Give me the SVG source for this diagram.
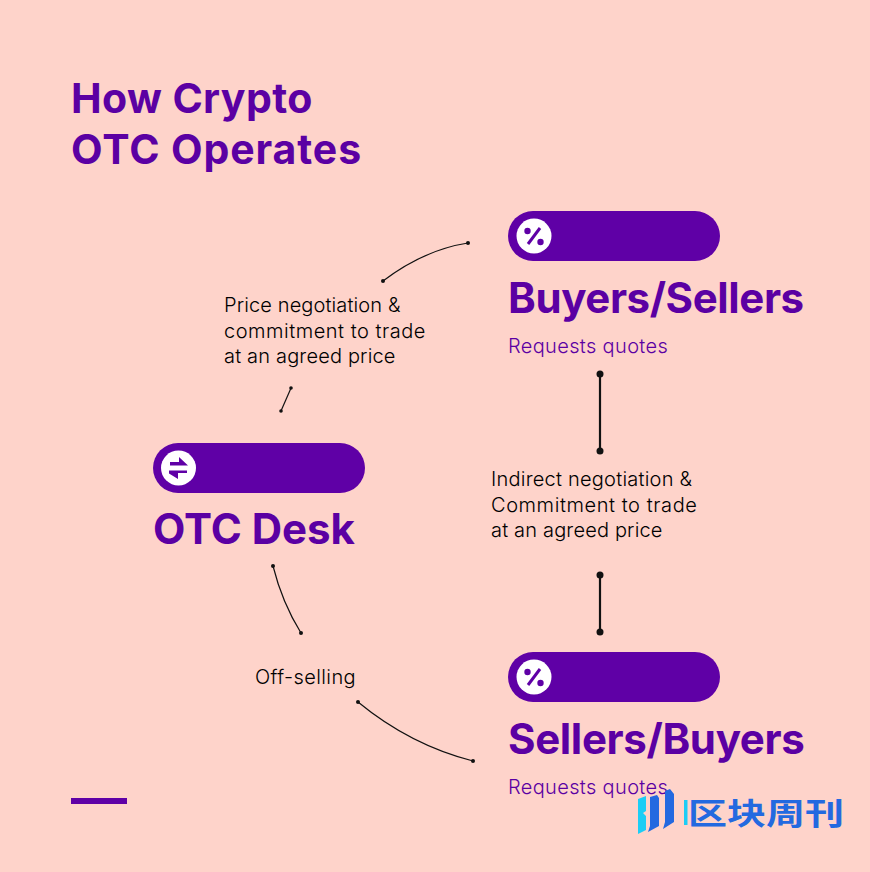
<svg xmlns="http://www.w3.org/2000/svg" width="870" height="872" viewBox="0 0 870 872">
<style>
.h{font-family:"Inter","Liberation Sans",sans-serif;font-weight:700;fill:#5b00a3}
.t{font-size:41px}
.n{font-size:42px}
.s{font-family:"Inter","Liberation Sans",sans-serif;font-size:20px;fill:#5b00a3;font-weight:300;letter-spacing:.35px}
.l{font-family:"Inter","Liberation Sans",sans-serif;font-size:20px;fill:#000;font-weight:300}
.p{fill:#5f00a6}
.c{fill:#fff}
.a{fill:none;stroke:#111;stroke-width:1.2}
.b{fill:none;stroke:#111;stroke-width:2.2}
.d{fill:#111}
.i{fill:none;stroke:#5f00a6;stroke-width:3}
.f{fill:#5f00a6}
</style>
<rect width="870" height="872" fill="#fed3ca"/>
<g id="title"><text class="h t" x="71" y="113" letter-spacing="0.4">How Crypto</text><text class="h t" x="71" y="164" letter-spacing="0.9">OTC Operates</text></g>
<g id="connectors">
<path class="a" d="M383 281C408 262 436 248 468 243"/><circle class="d" cx="383" cy="281" r="2"/><circle class="d" cx="468" cy="243" r="2"/>
<path class="a" d="M281 411L291 388"/><circle class="d" cx="281" cy="411" r="1.8"/><circle class="d" cx="291" cy="388" r="1.8"/>
<path class="a" d="M273 566C279 590 288 612 301 633"/><circle class="d" cx="273" cy="566" r="2"/><circle class="d" cx="301" cy="633" r="2"/>
<path class="a" d="M358 702C392 730 430 750 473 761"/><circle class="d" cx="358" cy="702" r="2"/><circle class="d" cx="473" cy="761" r="2"/>
<path class="b" d="M600 374V451"/><circle class="d" cx="600" cy="374" r="3.5"/><circle class="d" cx="600" cy="451" r="3.5"/>
<path class="b" d="M600 575V632"/><circle class="d" cx="600" cy="575" r="3.5"/><circle class="d" cx="600" cy="632" r="3.5"/>
</g>
<g id="label-price"><text class="l" x="224" y="312" letter-spacing="0.12">Price negotiation &amp;</text><text class="l" x="224" y="338" letter-spacing="0.52">commitment to trade</text><text class="l" x="224" y="363" letter-spacing="0.17">at an agreed price</text></g>
<g id="label-indirect"><text class="l" x="491" y="486" letter-spacing="0.23">Indirect negotiation &amp;</text><text class="l" x="491" y="512" letter-spacing="0.58">Commitment to trade</text><text class="l" x="491" y="537" letter-spacing="0.17">at an agreed price</text></g>
<g id="label-off"><text class="l" x="255" y="684" letter-spacing="0.4">Off-selling</text></g>
<g id="buyers-sellers">
<rect class="p" x="508" y="211" width="212" height="50" rx="25"/><circle class="c" cx="534" cy="236" r="17.5"/>
<path class="i" d="M540 228L528 244"/><circle class="f" cx="527.500" cy="231" r="3.2"/><circle class="f" cx="540.500" cy="242" r="3.2"/>
<text class="h n" x="508" y="313" letter-spacing="-0.4">Buyers/Sellers</text><text class="s" x="508" y="353">Requests quotes</text>
</g>
<g id="otc-desk">
<rect class="p" x="153" y="443" width="212" height="50" rx="25"/><circle class="c" cx="178.500" cy="468" r="17.500"/>
<path class="f" d="M170 462H179V457L188 465.500H170ZM187 470.500H178V479L169 473.500V470.500H187ZM169 470.500H187V473H169Z"/>
<text class="h n" x="153" y="544" letter-spacing="0">OTC Desk</text>
</g>
<g id="sellers-buyers">
<rect class="p" x="508" y="652" width="212" height="50" rx="25"/><circle class="c" cx="534" cy="677" r="17.5"/>
<path class="i" d="M540 669L528 685"/><circle class="f" cx="527.500" cy="672" r="3.2"/><circle class="f" cx="540.500" cy="683" r="3.2"/>
<text class="h n" x="508" y="754" letter-spacing="-0.35">Sellers/Buyers</text><text class="s" x="508" y="794">Requests quotes</text>
</g>
<g id="accent"><rect class="p" x="71" y="798" width="56" height="6"/></g>
<g id="watermark">
<polygon points="638,799 646,796 646,811 643,813 646,816 646,830 638,834" fill="#1ccdf5"/>
<polygon points="650,797 657,795 659,798 659,826 648,832 650,826" fill="#2369e0"/>
<polygon points="665,791 670,789 674,794 674,822 663,829 665,822" fill="#2369e0"/>
<rect x="684" y="800" width="3.500" height="25" fill="#1ccdf5"/>
<text transform="translate(688 824) scale(1.3 1)" x="0" y="0" font-family="'Noto Sans CJK SC',sans-serif" font-size="30" font-weight="700" fill="#2369e0">区块周刊</text>
</g>
</svg>
